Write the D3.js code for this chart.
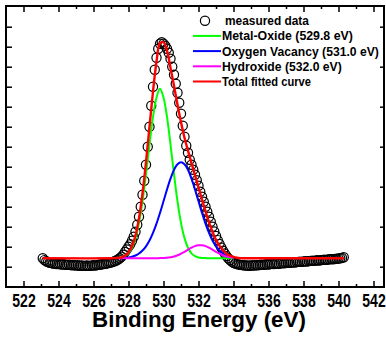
<!DOCTYPE html>
<html>
<head>
<meta charset="utf-8">
<script src="https://cdnjs.cloudflare.com/ajax/libs/d3/7.8.5/d3.min.js"></script>
<style>
  body { margin: 0; background: #fff; }
  svg { display: block; font-family: "Liberation Sans", Arial, sans-serif; font-weight: bold; }
</style>
</head>
<body>
<div id="chart"></div>
<script>
// measured points, 0.1 eV step
const MEASURED_E = [
  523.1, 523.2, 523.3, 523.4, 523.5, 523.6, 523.7, 523.8, 523.9,
  524.0, 524.1, 524.2, 524.3, 524.4, 524.5, 524.6, 524.7, 524.8, 524.9,
  525.0, 525.1, 525.2, 525.3, 525.4, 525.5, 525.6, 525.7, 525.8, 525.9,
  526.0, 526.1, 526.2, 526.3, 526.4, 526.5, 526.6, 526.7, 526.8, 526.9,
  527.0, 527.1, 527.2, 527.3, 527.4, 527.5, 527.6, 527.7, 527.8, 527.9,
  528.0, 528.1, 528.2, 528.3, 528.4, 528.5, 528.6, 528.7, 528.8, 528.9,
  529.0, 529.1, 529.2, 529.3, 529.4, 529.5, 529.6, 529.7, 529.8, 529.9,
  530.0, 530.1, 530.2, 530.3, 530.4, 530.5, 530.6, 530.7, 530.8, 530.9,
  531.0, 531.1, 531.2, 531.3, 531.4, 531.5, 531.6, 531.7, 531.8, 531.9,
  532.0, 532.1, 532.2, 532.3, 532.4, 532.5, 532.6, 532.7, 532.8, 532.9,
  533.0, 533.1, 533.2, 533.3, 533.4, 533.5, 533.6, 533.7, 533.8, 533.9,
  534.0, 534.1, 534.2, 534.3, 534.4, 534.5, 534.6, 534.7, 534.8, 534.9,
  535.0, 535.1, 535.2, 535.3, 535.4, 535.5, 535.6, 535.7, 535.8, 535.9,
  536.0, 536.1, 536.2, 536.3, 536.4, 536.5, 536.6, 536.7, 536.8, 536.9,
  537.0, 537.1, 537.2, 537.3, 537.4, 537.5, 537.6, 537.7, 537.8, 537.9,
  538.0, 538.1, 538.2, 538.3, 538.4, 538.5, 538.6, 538.7, 538.8, 538.9,
  539.0, 539.1, 539.2, 539.3, 539.4, 539.5, 539.6, 539.7, 539.8, 539.9,
  540.0, 540.1, 540.2, 540.3
];
const MEASURED_I = [
  0.42, 0.33, 0.27, 0.23, 0.20, 0.18, 0.16, 0.15, 0.13,
  0.14, 0.12, 0.11, 0.12, 0.10, 0.09, 0.10, 0.08, 0.07, 0.08,
  0.06, 0.07, 0.05, 0.06, 0.05, 0.04, 0.06, 0.05, 0.04, 0.06,
  0.07, 0.06, 0.08, 0.10, 0.11, 0.12, 0.14, 0.15, 0.17, 0.19,
  0.21, 0.24, 0.27, 0.31, 0.36, 0.42, 0.50, 0.60, 0.74, 0.86,
  1.00, 1.12, 1.30, 1.50, 1.75, 2.10, 2.50, 3.00, 3.60, 4.30,
  5.10, 6.00, 7.00, 8.05, 9.00, 9.85, 10.45, 10.90, 11.15, 11.22,
  11.15, 11.05, 10.90, 10.70, 10.40, 10.00, 9.60, 9.15, 8.70, 8.20,
  7.65, 7.05, 6.50, 6.05, 5.70, 5.35, 5.10, 4.85, 4.60, 4.32,
  4.05, 3.75, 3.50, 3.25, 3.00, 2.75, 2.50, 2.25, 2.00, 1.76,
  1.54, 1.33, 1.14, 0.96, 0.80, 0.66, 0.53, 0.42, 0.33, 0.26,
  0.20, 0.16, 0.13, 0.11, 0.09, 0.08, 0.07, 0.06, 0.06, 0.05,
  0.06, 0.07, 0.06, 0.08, 0.07, 0.09, 0.10, 0.09, 0.11, 0.12,
  0.11, 0.13, 0.14, 0.13, 0.15, 0.16, 0.15, 0.17, 0.18, 0.17,
  0.19, 0.20, 0.19, 0.21, 0.22, 0.21, 0.23, 0.24, 0.25, 0.24,
  0.26, 0.27, 0.26, 0.28, 0.29, 0.30, 0.29, 0.31, 0.32, 0.31,
  0.33, 0.34, 0.35, 0.34, 0.36, 0.37, 0.38, 0.37, 0.39, 0.40,
  0.41, 0.42, 0.44, 0.47
];

// fitted components, 0.2 eV step
const FIT_E = [
  527.4, 527.6, 527.8, 528.0, 528.2, 528.4, 528.6, 528.8, 529.0, 529.2,
  529.4, 529.6, 529.8, 530.0, 530.2, 530.4, 530.6, 530.8, 531.0, 531.2,
  531.4, 531.6, 531.8, 532.0, 532.2, 532.4, 532.6, 532.8, 533.0, 533.2,
  533.4, 533.6, 533.8, 534.0
];
const METAL_OXIDE = [
  0.44, 0.46, 0.53, 0.67, 0.95, 1.43, 2.19, 3.27, 4.63, 6.11,
  7.49, 8.46, 8.90, 8.46, 7.49, 6.11, 4.63, 3.27, 2.19, 1.43,
  0.95, 0.67, 0.53, 0.46, 0.44, 0.43, 0.42, 0.42, 0.42, 0.42,
  0.42, 0.42, 0.42, 0.42
];
const OXYGEN_VACANCY = [
  0.43, 0.43, 0.44, 0.46, 0.50, 0.56, 0.66, 0.81, 1.02, 1.31,
  1.69, 2.15, 2.69, 3.27, 3.86, 4.40, 4.84, 5.12, 5.22, 5.12,
  4.84, 4.40, 3.86, 3.27, 2.69, 2.15, 1.69, 1.31, 1.02, 0.81,
  0.66, 0.56, 0.50, 0.46
];
const HYDROXIDE = [
  0.42, 0.42, 0.42, 0.42, 0.42, 0.42, 0.42, 0.42, 0.42, 0.42,
  0.42, 0.42, 0.43, 0.43, 0.45, 0.47, 0.51, 0.57, 0.65, 0.74,
  0.85, 0.95, 1.03, 1.07, 1.07, 1.03, 0.95, 0.85, 0.74, 0.65,
  0.57, 0.51, 0.47, 0.45
];

const TOTAL_E = [
  523.1, 527.0, 527.2, 527.4, 527.6, 527.8, 528.0, 528.2, 528.4, 528.6,
  528.8, 529.0, 529.2, 529.4, 529.6, 529.8, 530.0, 530.2, 530.4, 530.6,
  530.8, 531.0, 531.2, 531.4, 531.6, 531.8, 532.0, 532.2, 532.4, 532.6,
  532.8, 533.0, 533.2, 533.4, 533.6, 533.8, 534.0, 534.2, 534.4, 534.6,
  534.8, 540.3
];
const TOTAL_FIT = [
  0.42, 0.42, 0.43, 0.45, 0.47, 0.55, 0.71, 1.03, 1.57, 2.43,
  3.66, 5.23, 7.00, 8.76, 10.25, 11.18, 11.22, 10.80, 9.95, 9.05,
  8.10, 7.22, 6.45, 5.80, 5.18, 4.58, 3.96, 3.36, 2.77, 2.22,
  1.74, 1.34, 1.04, 0.81, 0.65, 0.55, 0.49, 0.45, 0.43, 0.42,
  0.42, 0.42
];

const X_MAJOR_TICKS = [522, 524, 526, 528, 530, 532, 534, 536, 538, 540, 542];
const X_MINOR_TICKS = [523, 525, 527, 529, 531, 533, 535, 537, 539, 541];
const Y_TICKS = [0, 1, 2, 3, 4, 5, 6, 7, 8, 9, 10, 11, 12];
const Y_RIGHT_TICKS = [0, 2, 4, 6, 8, 10, 12];

const LEGEND_LABELS = [
  "measured data",
  "Metal-Oxide (529.8 eV)",
  "Oxygen Vacancy (531.0 eV)",
  "Hydroxide (532.0 eV)",
  "Total fitted curve"
];
const X_LABEL = "Binding Energy (eV)";

const COLORS = { green: "#00ff00", blue: "#0000ff", magenta: "#ff00ff", red: "#ff0000" };
const FRAME = { LEFT: 6, RIGHT: 384, TOP: 6, BOTTOM: 287 };

const SVG = d3.select("#chart").append("svg")
  .attr("width", 386)
  .attr("height", 349);

const X_SCALE = d3.scaleLinear().domain([521.0, 542.6]).range([FRAME.LEFT, FRAME.RIGHT]);
const Y_SCALE = d3.scaleLinear().domain([-1.015, 13.035]).range([FRAME.BOTTOM, FRAME.TOP]);

function styleAxis(g) {
  g.select(".domain").remove();
  g.selectAll(".tick line").attr("stroke-width", 1.5);
}

// the original text is narrower than the font, squeeze it horizontally
function squeeze(textSel, targetWidth, x, y) {
  const w = textSel.node().getComputedTextLength();
  textSel.attr("transform", "translate(" + x + "," + y + ") scale(" + (targetWidth / w) + ",1)");
}

// bottom ticks with labels
const X_AXIS = SVG.append("g")
  .attr("transform", "translate(0," + FRAME.BOTTOM + ")")
  .call(d3.axisBottom(X_SCALE).tickValues(X_MAJOR_TICKS).tickSize(-6).tickFormat(d3.format("d")))
  .call(styleAxis)
  .attr("font-family", null)
  .attr("font-size", 18);

X_AXIS.selectAll(".tick text").each(function () {
  const t = d3.select(this).attr("y", 0).attr("dy", null);
  squeeze(t, 23.5, 0, 19.5);
});

SVG.append("g")
  .attr("transform", "translate(0," + FRAME.BOTTOM + ")")
  .call(d3.axisBottom(X_SCALE).tickValues(X_MINOR_TICKS).tickSize(-3).tickFormat(""))
  .call(styleAxis);

SVG.append("g")
  .attr("transform", "translate(0," + FRAME.TOP + ")")
  .call(d3.axisTop(X_SCALE).tickValues(X_MAJOR_TICKS).tickSize(-6).tickFormat(""))
  .call(styleAxis);

SVG.append("g")
  .attr("transform", "translate(0," + FRAME.TOP + ")")
  .call(d3.axisTop(X_SCALE).tickValues(X_MINOR_TICKS).tickSize(-3).tickFormat(""))
  .call(styleAxis);

SVG.append("g")
  .attr("transform", "translate(" + FRAME.LEFT + ",0)")
  .call(d3.axisLeft(Y_SCALE).tickValues(Y_TICKS).tickSize(-6).tickFormat(""))
  .call(styleAxis);

SVG.append("g")
  .attr("transform", "translate(" + FRAME.RIGHT + ",0)")
  .call(d3.axisRight(Y_SCALE).tickValues(Y_RIGHT_TICKS).tickSize(-4).tickFormat(""))
  .call(styleAxis);

SVG.append("rect")
  .attr("x", FRAME.LEFT)
  .attr("y", FRAME.TOP)
  .attr("width", FRAME.RIGHT - FRAME.LEFT)
  .attr("height", FRAME.BOTTOM - FRAME.TOP)
  .attr("fill", "none")
  .attr("stroke", "#000")
  .attr("stroke-width", 2);

// measured data
SVG.append("g")
  .selectAll("circle")
  .data(MEASURED_E)
  .enter()
  .append("circle")
  .attr("cx", (d) => X_SCALE(d))
  .attr("cy", (d, i) => Y_SCALE(MEASURED_I[i]))
  .attr("r", 4.6)
  .attr("fill", "none")
  .attr("stroke", "#000")
  .attr("stroke-width", 1.2);

const LINE = d3.line()
  .x((d) => X_SCALE(d[0]))
  .y((d) => Y_SCALE(d[1]))
  .curve(d3.curveCatmullRom);

function drawCurve(xs, ys, color, width) {
  SVG.append("path")
    .datum(xs.map((x, i) => [x, ys[i]]))
    .attr("d", LINE)
    .attr("fill", "none")
    .attr("stroke", color)
    .attr("stroke-width", width);
}

drawCurve(FIT_E, METAL_OXIDE, COLORS.green, 2);
drawCurve(FIT_E, OXYGEN_VACANCY, COLORS.blue, 2);
drawCurve(FIT_E, HYDROXIDE, COLORS.magenta, 2);
drawCurve(TOTAL_E, TOTAL_FIT, COLORS.red, 2.4);

// legend
const LEGEND = SVG.append("g").attr("font-size", 12);
const LEGEND_WIDTHS = [84, 131, 157, 120, 89];
const LEGEND_SWATCH = [null, COLORS.green, COLORS.blue, COLORS.magenta, COLORS.red];

LEGEND_LABELS.forEach((label, i) => {
  const cy = 20.7 + i * 15.2;
  if (i === 0) {
    LEGEND.append("circle")
      .attr("cx", 205)
      .attr("cy", cy)
      .attr("r", 4.6)
      .attr("fill", "none")
      .attr("stroke", "#000")
      .attr("stroke-width", 1.2);
  } else {
    LEGEND.append("line")
      .attr("x1", 193)
      .attr("x2", 221)
      .attr("y1", cy)
      .attr("y2", cy)
      .attr("stroke", LEGEND_SWATCH[i])
      .attr("stroke-width", 2);
  }
  const t = LEGEND.append("text").text(label);
  squeeze(t, LEGEND_WIDTHS[i], i === 0 ? 225 : 222, cy + 4.4);
});

const TITLE = SVG.append("text")
  .attr("text-anchor", "middle")
  .attr("font-size", 22)
  .text(X_LABEL);
squeeze(TITLE, 214, 199, 327.3);
</script>
</body>
</html>
